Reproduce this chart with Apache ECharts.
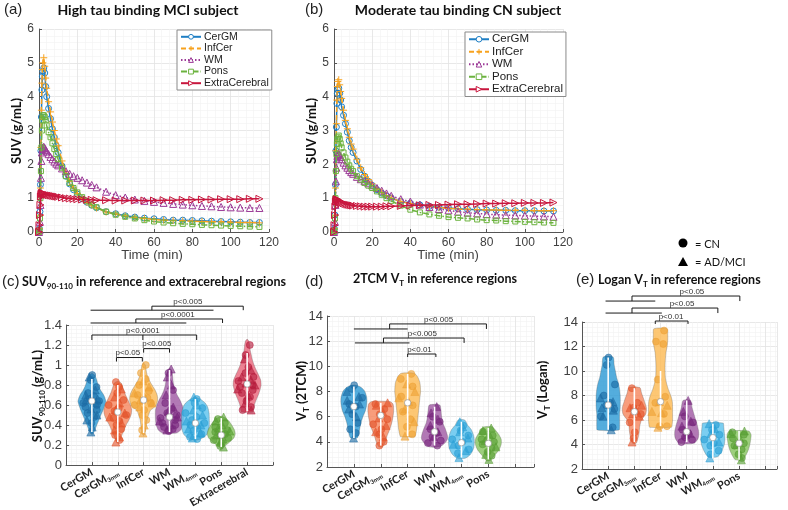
<!DOCTYPE html>
<html><head><meta charset="utf-8">
<script src="https://cdn.jsdelivr.net/npm/echarts@6/dist/echarts.min.js"></script>
<style>html,body{margin:0;padding:0;background:#fff}#c{width:788px;height:510px}</style>
</head><body><div id="c"></div><script>
// ---------- Panel (a)/(b) time-activity curves ----------
const timeMin = [0,0.25,0.5,0.75,1,1.25,1.5,1.75,2,2.5,3,3.5,4,5,6,7,8,9,10,12,14,16,18,20,22.5,25,27.5,30,35,40,45,50,55,60,65,70,75,80,85,90,95,100,105,110,115];
const aCerGM = [0,0.1,0.6,1.4,2.4,3.4,4.2,4.6,4.75, 4.85,4.7,4.3,4.0, 3.65,3.35,3.05,2.8,2.55,2.35, 1.95,1.65,1.42,1.25,1.12, 0.98,0.88,0.79,0.72, 0.6,0.54,0.48,0.44,0.41,0.39,0.37,0.35,0.35,0.34,0.33,0.32,0.31,0.3,0.29,0.28,0.28];
const aInfCer = [0,0.1,0.5,1.3,2.5,3.6,4.4,4.8,5.0, 5.15,4.9,4.55,4.25, 3.85,3.55,3.25,3.0,2.75,2.55, 2.1,1.78,1.5,1.3,1.14, 0.99,0.88,0.79,0.71, 0.59,0.53,0.47,0.43,0.4,0.37,0.35,0.34,0.33,0.32,0.31,0.3,0.3,0.29,0.28,0.28,0.27];
const aWM = [0,0.05,0.3,0.8,1.6,2.1,2.35,2.45,2.5, 2.52,2.48,2.42,2.38, 2.3,2.22,2.15,2.08,2.02,1.97, 1.88,1.8,1.72,1.65,1.6, 1.53,1.46,1.39,1.32, 1.19,1.09,1.02,0.96,0.92,0.89,0.86,0.83,0.81,0.79,0.77,0.76,0.74,0.73,0.72,0.71,0.71];
const aPons = [0,0.05,0.4,1.0,1.8,2.5,3.0,3.3,3.45, 3.45,3.4,3.3,3.15, 2.95,2.8,2.62,2.45,2.3,2.15, 1.9,1.65,1.45,1.3,1.17, 1.03,0.91,0.81,0.73, 0.6,0.51,0.45,0.4,0.35,0.31,0.28,0.26,0.24,0.23,0.21,0.2,0.19,0.18,0.17,0.16,0.15];
const aExtra = [0,0.2,0.5,0.8,1.05,1.12,1.15,1.15,1.14, 1.13,1.12,1.11,1.1, 1.09,1.08,1.07,1.06,1.05,1.04, 1.02,1.0,0.99,0.98,0.97, 0.96,0.95,0.95,0.94, 0.94,0.93,0.93,0.93,0.93,0.93,0.94,0.94,0.95,0.95,0.96,0.96,0.97,0.97,0.97,0.98,0.98];
const bCerGM = [0,0.1,0.5,1.4,2.4,3.1,3.8,4.1,4.2, 4.25,4.1,3.9,3.7, 3.45,3.2,2.95,2.7,2.5,2.35, 2.1,1.85,1.65,1.5,1.38, 1.25,1.15,1.07,1.0, 0.9,0.85,0.8,0.76,0.73,0.71,0.69,0.67,0.66,0.65,0.64,0.64,0.63,0.63,0.63,0.62,0.62];
const bInfCer = [0,0.1,0.5,1.3,2.4,3.2,3.9,4.3,4.45, 4.5,4.35,4.15,3.95, 3.6,3.3,3.05,2.8,2.6,2.45, 2.15,1.9,1.7,1.55,1.42, 1.28,1.17,1.08,1.0, 0.9,0.84,0.79,0.75,0.72,0.7,0.68,0.67,0.66,0.65,0.65,0.64,0.64,0.64,0.63,0.63,0.63];
const bWM = [0,0.05,0.3,0.8,1.5,1.9,2.15,2.25,2.3, 2.3,2.28,2.22,2.15, 2.05,1.97,1.9,1.83,1.77,1.72, 1.63,1.56,1.5,1.44,1.38, 1.3,1.22,1.14,1.07, 0.97,0.9,0.81,0.74,0.68,0.64,0.6,0.57,0.55,0.53,0.51,0.5,0.49,0.48,0.47,0.46,0.45];
const bPons = [0,0.05,0.4,1.0,1.8,2.3,2.6,2.75,2.8, 2.85,2.75,2.62,2.5, 2.35,2.2,2.08,1.97,1.87,1.8, 1.65,1.55,1.45,1.37,1.3, 1.2,1.1,1.0,0.92, 0.78,0.66,0.58,0.52,0.48,0.44,0.42,0.4,0.37,0.35,0.34,0.32,0.31,0.3,0.29,0.28,0.27];
const bExtra = [0,0.2,0.5,0.75,0.9,0.95,0.97,0.96,0.95, 0.93,0.91,0.89,0.87, 0.85,0.83,0.81,0.8,0.79,0.78, 0.77,0.76,0.75,0.75,0.75, 0.75,0.75,0.76,0.76, 0.77,0.78,0.79,0.8,0.8,0.81,0.82,0.82,0.83,0.84,0.84,0.85,0.85,0.86,0.86,0.86,0.87];
const curveNames = ['CerGM','InfCer','WM','Pons','ExtraCerebral'];

// ---------- Panel (c)/(d)/(e) categories ----------
const cCategories = ['CerGM','CerGM','InfCer','WM','WM','Pons','Extracerebral'];
const cSubscripts = ['','3mm','','','4mm','',''];
const deCategories = ['CerGM','CerGM','InfCer','WM','WM','Pons'];
const deSubscripts = ['','3mm','','','4mm',''];

// violin density profiles: [value, relative width]
const cProfiles = [
 [[0.92,0],[0.90,0.2],[0.85,0.35],[0.80,0.45],[0.75,0.62],[0.70,0.85],[0.64,1.0],[0.60,0.93],[0.55,0.8],[0.50,0.65],[0.45,0.5],[0.40,0.35],[0.35,0.22],[0.31,0.06]],
 [[0.84,0],[0.82,0.25],[0.78,0.35],[0.72,0.5],[0.66,0.7],[0.6,0.9],[0.55,1.0],[0.5,0.95],[0.45,0.8],[0.4,0.6],[0.35,0.45],[0.3,0.3],[0.25,0.15],[0.22,0]],
 [[1.02,0],[1.0,0.12],[0.95,0.18],[0.9,0.25],[0.85,0.4],[0.8,0.6],[0.75,0.82],[0.7,0.97],[0.65,1.0],[0.6,0.9],[0.57,0.7],[0.55,0.5],[0.5,0.35],[0.45,0.25],[0.4,0.2],[0.35,0.15],[0.3,0.05]],
 [[0.97,0],[0.95,0.15],[0.9,0.22],[0.85,0.25],[0.8,0.3],[0.75,0.4],[0.7,0.55],[0.65,0.75],[0.6,0.9],[0.55,1.0],[0.45,1.0],[0.4,0.95],[0.35,0.8],[0.32,0.5]],
 [[0.68,0],[0.66,0.35],[0.62,0.7],[0.58,0.88],[0.52,0.98],[0.45,1.0],[0.4,1.0],[0.35,0.95],[0.3,0.8],[0.27,0.5],[0.25,0.15]],
 [[0.49,0],[0.47,0.3],[0.44,0.55],[0.4,0.75],[0.35,0.95],[0.31,1.0],[0.27,0.9],[0.23,0.6],[0.2,0.35],[0.17,0.05]],
 [[1.26,0],[1.24,0.12],[1.2,0.18],[1.15,0.22],[1.1,0.3],[1.05,0.38],[1.0,0.5],[0.95,0.65],[0.9,0.82],[0.85,0.97],[0.8,1.0],[0.75,0.92],[0.7,0.8],[0.65,0.65],[0.6,0.52],[0.55,0.45],[0.53,0.4]]
];
const dProfiles = [
 [[8.5,0.2],[8.3,0.6],[8.0,0.85],[7.5,1.0],[7.0,1.0],[6.5,0.9],[6.0,0.7],[5.5,0.55],[5.0,0.45],[4.5,0.35],[4.3,0.25]],
 [[7.2,0.7],[7.0,0.95],[6.5,1.0],[6.0,0.95],[5.5,0.85],[5.0,0.7],[4.5,0.5],[4.0,0.35],[3.6,0.15]],
 [[9.45,0.5],[9.2,0.75],[8.7,0.95],[8.0,1.0],[7.5,0.95],[7.0,0.9],[6.5,0.85],[6.0,0.8],[5.5,0.75],[5.0,0.7],[4.5,0.6],[4.4,0.55]],
 [[6.93,0.4],[6.5,0.5],[6.0,0.55],[5.5,0.65],[5.0,0.85],[4.5,1.0],[4.2,1.0],[3.9,0.8],[3.6,0.4]],
 [[5.74,0.25],[5.3,0.5],[5.0,0.75],[4.5,0.95],[4.0,1.0],[3.5,0.95],[3.0,0.7],[2.7,0.3]],
 [[5.2,0.3],[5.0,0.5],[4.6,0.8],[4.2,1.0],[3.8,1.0],[3.4,0.85],[3.0,0.55],[2.7,0.3],[2.5,0.15]]
];
const eProfiles = [
 [[11.15,0.4],[10.5,0.5],[10.0,0.6],[9.5,0.7],[9.0,0.85],[8.5,0.95],[8.0,1.0],[7.0,1.0],[6.5,0.95],[6.0,0.95],[5.5,0.95],[5.18,0.9]],
 [[8.65,0.45],[8.2,0.6],[7.5,0.85],[7.0,1.0],[6.5,0.95],[6.0,0.6],[5.5,0.45],[5.0,0.4],[4.5,0.3],[4.1,0.15]],
 [[13.45,0.55],[13,0.6],[12.5,0.6],[12,0.55],[11.5,0.45],[10.5,0.38],[9.5,0.4],[9.0,0.5],[8.5,0.65],[8.0,0.85],[7.5,0.98],[7.0,1.0],[6.5,1.0],[6.0,1.0],[5.5,0.95],[5.4,0.9]],
 [[7.6,0.3],[7.0,0.45],[6.5,0.6],[6.0,0.75],[5.5,0.9],[5.0,1.0],[4.5,0.95],[4.1,0.6]],
 [[5.75,0.85],[5.5,0.9],[5.0,0.95],[4.5,1.0],[4.0,0.95],[3.5,0.75],[3.0,0.4]],
 [[5.1,0.8],[4.8,1.0],[4.3,0.95],[4.0,0.9],[3.5,0.75],[3.0,0.5],[2.75,0.3]]
];
// medians / whisker ranges
const cMedians = [0.64,0.53,0.65,0.48,0.42,0.30,0.81];
const cWhiskerLow = [0.33,0.23,0.32,0.33,0.26,0.18,0.54];
const cWhiskerHigh = [0.86,0.80,0.95,0.95,0.66,0.47,1.12];
const dMedians = [6.8,6.1,7.1,4.8,3.93,3.88];
const dWhiskerLow = [4.3,3.7,4.45,3.7,2.75,2.6];
const dWhiskerHigh = [8.4,7.1,9.4,6.8,5.6,5.1];
const eMedians = [7.22,6.68,7.5,5.05,4.56,4.1];
const eWhiskerLow = [5.2,4.2,5.5,4.2,2.9,2.75];
const eWhiskerHigh = [11.1,8.6,10.0,7.6,5.7,5.1];
// individual subjects: CN (circles) and AD/MCI (triangles)
const cCN = [
 [0.90,0.85,0.78,0.72,0.69,0.66,0.64,0.62,0.60,0.58,0.55,0.52,0.48,0.42],
 [0.83,0.78,0.72,0.65,0.60,0.57,0.54,0.50,0.47,0.44,0.40,0.36,0.30,0.25],
 [1.0,0.92,0.86,0.80,0.74,0.70,0.67,0.64,0.62,0.60,0.55,0.50,0.45,0.35],
 [0.92,0.75,0.62,0.56,0.52,0.50,0.47,0.45,0.42,0.40,0.38,0.36,0.34],
 [0.66,0.62,0.57,0.52,0.48,0.45,0.42,0.40,0.37,0.34,0.31,0.28,0.26],
 [0.46,0.42,0.38,0.35,0.33,0.31,0.29,0.27,0.25,0.22,0.19],
 [1.20,1.10,0.98,0.92,0.88,0.84,0.80,0.78,0.75,0.72,0.68,0.64,0.58,0.55]
];
const cAD = [
 [0.88,0.75,0.70,0.66,0.65,0.62,0.56,0.50,0.45,0.38,0.33],
 [0.76,0.68,0.62,0.55,0.52,0.48,0.42,0.35,0.28,0.23],
 [0.84,0.78,0.72,0.68,0.65,0.62,0.58,0.40,0.32],
 [0.96,0.88,0.80,0.70,0.58,0.54,0.48,0.44,0.40,0.35],
 [0.68,0.60,0.55,0.50,0.44,0.40,0.36,0.32,0.27],
 [0.48,0.44,0.40,0.37,0.34,0.30,0.26,0.23,0.18],
 [1.06,0.95,0.88,0.85,0.82,0.80,0.76,0.70,0.62,0.55]
];
const dCN = [
 [8.5,8.2,7.5,7.0,6.8,6.2,5.5,5.0,4.7],
 [7.0,6.6,6.2,5.8,5.4,5.0,4.6,4.0,3.7],
 [9.4,9.0,8.4,7.6,6.9,6.4,5.8,5.2,4.6],
 [6.0,5.6,5.0,4.7,4.4,4.1,3.9,3.7],
 [5.3,4.9,4.5,4.2,4.0,3.7,3.4,3.1],
 [4.8,4.5,4.2,4.0,3.8,3.5,3.2,2.9]
];
const dAD = [
 [8.0,7.6,7.3,7.0,6.6,6.0,4.3],
 [7.1,6.9,6.4,5.9,5.3,4.8,4.4],
 [8.6,8.0,7.5,7.2,6.6,5.6,4.45],
 [6.8,6.3,5.8,5.3,4.8,4.4],
 [5.6,5.2,4.8,4.3,3.8,3.3,2.75],
 [5.1,4.9,4.6,4.1,3.6,3.0,2.6]
];
const eCN = [
 [11.1,10.5,8.9,8.0,7.4,7.2,6.9,6.3,5.4],
 [8.6,7.4,7.0,6.5,5.8,5.0,4.5],
 [13.3,12.4,12.2,9.3,7.9,7.4,6.5,5.5,5.5],
 [6.3,5.8,5.2,4.9,4.6,4.4,4.2],
 [5.6,5.2,4.8,4.4,4.1,3.9,3.5,3.2],
 [5.0,4.8,4.5,4.1,3.9,3.6,3.2,2.9]
];
const eAD = [
 [7.8,7.5,7.0,6.8,6.3,5.2],
 [7.2,7.0,6.8,6.5,6.3,4.2],
 [7.5,7.2,6.7,6.6,5.4],
 [7.6,6.7,5.9,5.5,4.9,4.8],
 [5.7,5.3,4.9,4.2,2.9],
 [5.1,4.9,4.5,4.0,2.75]
];
// significance brackets: group lines [x1, x2, y]; brackets [x1, x2, yTop, yLeftEnd, yRightEnd, labelX, label, midTickX]
const cGroupLines = [[0.95,5.7,1.548],[0.95,4.65,1.42]];
const cBrackets = [
 [3.32,6.85,1.588,1.548,1.548,4.71,'p<0.005',null],
 [2.7,6.05,1.46,1.42,1.42,4.32,'p<0.0001',null],
 [1.0,5.05,1.30,1.25,1.25,2.97,'p<0.0001',2.97],
 [3.0,4.0,1.164,1.124,1.124,3.51,'p<0.005',null],
 [1.95,2.95,1.075,1.035,1.035,2.39,'p<0.05',null]
];
const dGroupLines = [[1.0,3.0,12.97],[1.04,3.07,11.86]];
const dBrackets = [
 [2.33,5.93,13.37,12.97,12.97,4.15,'p<0.005',null],
 [2.1,5.1,12.25,11.86,11.86,3.55,'p<0.005',null],
 [3.0,4.05,10.98,10.74,10.74,3.44,'p<0.01',null]
];
const eGroupLines = [[0.9,2.8,15.71],[0.9,3.05,14.73]];
const eBrackets = [
 [1.91,6.03,16.12,15.71,15.71,4.2,'p<0.05',null],
 [1.91,5.19,15.14,14.73,14.73,3.82,'p<0.05',null],
 [2.8,4.05,14.08,13.84,13.84,3.4,'p<0.01',null]
];

// ---------- styles ----------
const curveStyles = [
 {color:'#1f7fc4', symbol:'circle', size:6, dash:'solid'},
 {color:'#f7a21e', symbol:'path://M5,0L5,10M0,5L10,5', size:7, dash:[5,3]},
 {color:'#9c3a97', symbol:'triangle', size:7, dash:[1.5,2]},
 {color:'#6cb33f', symbol:'rect', size:5, dash:[6,2,1.5,2]},
 {color:'#c8163d', symbol:'path://M0,0L10,5L0,10Z', size:7, dash:'solid'}
];
const violinFill = ['#2e9bd6','#f7875f','#fdbb55','#a15ba5','#5ec3ee','#88c460','#e9687d'];
const pointColor = ['#1c6aa3','#e2532a','#eea235','#77267c','#2b9fd5','#579e34','#b51b3c'];
const FONT = '"Liberation Sans", Arial, sans-serif';
const TFONT = 'Lato, "Open Sans", sans-serif';

function curveSeries(grid, arrs) {
  return arrs.map((arr, i) => ({
    name: curveNames[i], type:'line', xAxisIndex:grid, yAxisIndex:grid,
    data: timeMin.map((t,k)=>[t, arr[k]]),
    symbol: curveStyles[i].symbol, symbolSize: curveStyles[i].size, showSymbol:true,
    lineStyle:{color:curveStyles[i].color, width:1.5, type:curveStyles[i].dash},
    itemStyle:{color:'rgba(255,255,255,0)', borderColor:curveStyles[i].color, borderWidth:1},
    emphasis:{disabled:true}, z: 2+i
  }));
}
function legendItems(){
  return curveNames.map((n,i)=>({name:n, itemStyle:{color:'#fff', borderColor:curveStyles[i].color, borderWidth:1}}));
}
function densityAt(prof, y){
  if (y >= prof[0][0]) return prof[0][1];
  for (let k=0;k<prof.length-1;k++){
    const [y0,d0]=prof[k],[y1,d1]=prof[k+1];
    if (y<=y0 && y>=y1) return d0+(d1-d0)*(y0-y)/(y0-y1);
  }
  return prof[prof.length-1][1];
}
function violinSeries(grid, profiles, maxHW){
  return {type:'custom', xAxisIndex:grid, yAxisIndex:grid, silent:true, z:3,
    data: profiles.map((p,i)=>[i+1, p[0][0]]),
    renderItem(params, api){
      const i = params.dataIndex, prof = profiles[i], x0 = i+1;
      const right = prof.map(([y,d]) => api.coord([x0 + d*maxHW, y]));
      const left = prof.slice().reverse().map(([y,d]) => api.coord([x0 - d*maxHW, y]));
      return {type:'polygon', shape:{points:right.concat(left), smooth:0.25},
        style:{fill:violinFill[i], opacity:0.82, stroke:'rgba(80,80,80,0.55)', lineWidth:0.6}};
    }};
}
const jitterPattern = [0.1,-0.55,0.65,-0.3,0.35,-0.8,0.8,-0.1,0.5,-0.45,0.7,-0.65,0.2,-0.9,0.55,-0.2];
function pointSeries(grid, vals, profiles, maxHW, symbol, size, shift){
  const data = [];
  vals.forEach((arr,i)=>arr.forEach((v,k)=>{
    const d = Math.max(densityAt(profiles[i], v), 0.3);
    const j = jitterPattern[(k*3+shift+i)%jitterPattern.length];
    data.push({value:[i+1 + j*d*maxHW*0.8, v], itemStyle:{color:pointColor[i], borderColor:pointColor[i]}});
  }));
  return {type:'scatter', xAxisIndex:grid, yAxisIndex:grid, symbol, symbolSize:size, silent:true, z:4,
    itemStyle:{opacity:0.62, borderWidth:0.8}, data};
}
function boxSeries(grid, med, lo, hi){
  return {type:'custom', xAxisIndex:grid, yAxisIndex:grid, silent:true, z:6,
    data: med.map((m,i)=>[i+1, m]),
    renderItem(params, api){
      const i = params.dataIndex, x0=i+1;
      const a=api.coord([x0, lo[i]]), b=api.coord([x0, hi[i]]), m=api.coord([x0, med[i]]);
      return {type:'group', children:[
        {type:'line', shape:{x1:a[0],y1:a[1],x2:b[0],y2:b[1]}, style:{stroke:'#fff', lineWidth:1.6}},
        {type:'circle', shape:{cx:m[0], cy:m[1], r:3.2}, style:{fill:'#fff', stroke:'#888', lineWidth:0.6}}
      ]};
    }};
}
function bracketSeries(grid, groups, brackets, ymin){
  return {type:'custom', xAxisIndex:grid, yAxisIndex:grid, silent:true, clip:false, z:7,
    data:[[1, ymin]],
    renderItem(params, api){
      const ch = [];
      const st = {stroke:'#1a1a1a', lineWidth:1, fill:'none'};
      groups.forEach(g=>{ const a=api.coord([g[0],g[2]]), b=api.coord([g[1],g[2]]);
        ch.push({type:'line', shape:{x1:a[0],y1:a[1],x2:b[0],y2:b[1]}, style:st}); });
      brackets.forEach(b=>{
        const [x1,x2,yt,yl,yr,lx,lab,mid]=b;
        ch.push({type:'polyline', shape:{points:[api.coord([x1,yl]),api.coord([x1,yt]),api.coord([x2,yt]),api.coord([x2,yr])]}, style:st});
        if (mid!=null){ const m1=api.coord([mid,yt]), m2=api.coord([mid,yl]);
          ch.push({type:'line', shape:{x1:m1[0],y1:m1[1],x2:m2[0],y2:m2[1]}, style:st}); }
        const lp = api.coord([lx, yt]);
        ch.push({type:'text', style:{text:lab, x:lp[0], y:lp[1]-0.5, align:'center', verticalAlign:'bottom', font:'8px '+FONT, fill:'#333'}});
      });
      return {type:'group', children:ch};
    }};
}
const gridLine = {show:true, lineStyle:{color:'#e2e2e2', width:0.8}};
const minorLine = {show:true, lineStyle:{color:'#f1f1f1', width:0.6}};
function valAxis(grid, min, max, interval, extra){
  return Object.assign({type:'value', gridIndex:grid, min, max, interval,
    axisLine:{show:true, onZero:false, lineStyle:{color:'#555', width:1}},
    axisTick:{show:true, inside:true, length:3, lineStyle:{color:'#555'}},
    axisLabel:{fontFamily:FONT, fontSize:12, color:'#404040', margin:5},
    splitLine:gridLine, minorTick:{show:false, splitNumber:5}, minorSplitLine:minorLine}, extra||{});
}
function catFormatter(cats, subs){
  return v => { const i=Math.round(v)-1; if (Math.abs(v-Math.round(v))>1e-6 || i<0 || i>=cats.length) return '';
    return '{b|'+cats[i]+'}'+(subs[i]?'{s|'+subs[i]+'}':''); };
}
const catRich = {b:{fontFamily:TFONT, fontWeight:'bold', fontSize:11, color:'#222', lineHeight:13},
                 s:{fontFamily:TFONT, fontWeight:'bold', fontSize:6, color:'#222', lineHeight:8, verticalAlign:'bottom'}};
function catAxis(grid, max, cats, subs){
  return valAxis(grid, 0, max, 1, {axisLabel:{formatter:catFormatter(cats,subs), rotate:30, margin:6, rich:catRich, fontSize:11}});
}
const lowerY = {axisLabel:{fontFamily:FONT, fontSize:13, color:'#404040', margin:4}};

const option = {
  animation:false, backgroundColor:'#fff',
  grid:[
    {left:39, top:29, width:230, height:203},
    {left:334, top:29, width:229, height:203},
    {left:66, top:325, width:207, height:142},
    {left:327, top:316, width:207, height:151},
    {left:582, top:322, width:195, height:147}
  ],
  xAxis:[
    valAxis(0,0,120,20), valAxis(1,0,120,20),
    catAxis(2,8,cCategories,cSubscripts), catAxis(3,7.7,deCategories,deSubscripts), catAxis(4,7.45,deCategories,deSubscripts)
  ],
  yAxis:[
    valAxis(0,0,6,1), valAxis(1,0,6,1),
    valAxis(2,0,1.4,0.2,lowerY), valAxis(3,2,14,2,lowerY), valAxis(4,2,14,2,lowerY)
  ],
  legend:[
    {left:177, top:30, orient:'vertical', selectedMode:false, data:legendItems(), itemWidth:20, itemHeight:6, itemGap:0,
     padding:[1,3,1,3], borderColor:'#8a8a8a', borderWidth:1, backgroundColor:'#fff', borderRadius:0,
     textStyle:{fontFamily:FONT, fontSize:10.5, color:'#222', lineHeight:11.6, padding:[0,0,0,-2]}},
    {left:465, top:32, orient:'vertical', selectedMode:false, data:legendItems(), itemWidth:20, itemHeight:7, itemGap:0,
     padding:[1,3,1,3], borderColor:'#8a8a8a', borderWidth:1, backgroundColor:'#fff', borderRadius:0,
     textStyle:{fontFamily:FONT, fontSize:11.5, color:'#222', lineHeight:12.5, padding:[0,0,0,-2]}}
  ],
  graphic:[
    {type:'text', style:{text:'(a)', x:4, y:10, verticalAlign:'middle', font:'15px '+FONT, fill:'#222'}},
    {type:'text', style:{text:'High tau binding MCI subject', x:148, y:10, align:'center', verticalAlign:'middle', font:'bold 14px '+TFONT, fill:'#111'}},
    {type:'text', style:{text:'(b)', x:305, y:10, verticalAlign:'middle', font:'15px '+FONT, fill:'#222'}},
    {type:'text', style:{text:'Moderate tau binding CN subject', x:458, y:10, align:'center', verticalAlign:'middle', font:'bold 14px '+TFONT, fill:'#111'}},
    {type:'text', rotation:Math.PI/2, x:17, y:131, style:{text:'SUV (g/mL)', x:0, y:0, align:'center', verticalAlign:'middle', font:'bold 13px '+TFONT, fill:'#111'}},
    {type:'text', rotation:Math.PI/2, x:312, y:131, style:{text:'SUV (g/mL)', x:0, y:0, align:'center', verticalAlign:'middle', font:'bold 13px '+TFONT, fill:'#111'}},
    {type:'text', style:{text:'Time (min)', x:152, y:255, align:'center', verticalAlign:'middle', font:'13px '+FONT, fill:'#404040'}},
    {type:'text', style:{text:'Time (min)', x:448, y:255, align:'center', verticalAlign:'middle', font:'13px '+FONT, fill:'#404040'}},
    {type:'circle', shape:{cx:683, cy:243, r:4.5}, style:{fill:'#000'}},
    {type:'text', style:{text:'= CN', x:695, y:244, verticalAlign:'middle', font:'11px '+TFONT, fill:'#111'}},
    {type:'polygon', shape:{points:[[678,266],[688,266],[683,257]]}, style:{fill:'#000'}},
    {type:'text', style:{text:'= AD/MCI', x:695, y:262, verticalAlign:'middle', font:'11px '+TFONT, fill:'#111'}},
    {type:'text', style:{text:'(c)', x:2, y:282, verticalAlign:'middle', font:'15px '+FONT, fill:'#222'}},
    {type:'text', style:{text:'{t|SUV}{s|90-110}{t| in reference and extracerebral regions}', x:22, y:282, verticalAlign:'middle',
      rich:{t:{font:'bold 12.5px '+TFONT, fill:'#111', lineHeight:16}, s:{font:'bold 8px '+TFONT, fill:'#111', lineHeight:10, verticalAlign:'bottom'}}}},
    {type:'text', style:{text:'(d)', x:305, y:282, verticalAlign:'middle', font:'15px '+FONT, fill:'#222'}},
    {type:'text', style:{text:'{t|2TCM V}{s|T}{t| in reference regions}', x:435, y:279, align:'center', verticalAlign:'middle',
      rich:{t:{font:'bold 12.5px '+TFONT, fill:'#111', lineHeight:16}, s:{font:'bold 8px '+TFONT, fill:'#111', lineHeight:10, verticalAlign:'bottom'}}}},
    {type:'text', style:{text:'(e)', x:576, y:280, verticalAlign:'middle', font:'15px '+FONT, fill:'#222'}},
    {type:'text', style:{text:'{t|Logan V}{s|T}{t| in reference regions}', x:598, y:280, verticalAlign:'middle',
      rich:{t:{font:'bold 12.5px '+TFONT, fill:'#111', lineHeight:16}, s:{font:'bold 8px '+TFONT, fill:'#111', lineHeight:10, verticalAlign:'bottom'}}}},
    {type:'text', rotation:Math.PI/2, x:38, y:396, style:{text:'{t|SUV}{s|90-110}{t| (g/mL)}', x:0, y:0, align:'center', verticalAlign:'middle',
      rich:{t:{font:'bold 13px '+TFONT, fill:'#111', lineHeight:16}, s:{font:'bold 8px '+TFONT, fill:'#111', lineHeight:10, verticalAlign:'bottom'}}}},
    {type:'text', rotation:Math.PI/2, x:302, y:391, style:{text:'{t|V}{s|T}{t| (2TCM)}', x:0, y:0, align:'center', verticalAlign:'middle',
      rich:{t:{font:'bold 13px '+TFONT, fill:'#111', lineHeight:16}, s:{font:'bold 8px '+TFONT, fill:'#111', lineHeight:10, verticalAlign:'bottom'}}}},
    {type:'text', rotation:Math.PI/2, x:543, y:390, style:{text:'{t|V}{s|T}{t| (Logan)}', x:0, y:0, align:'center', verticalAlign:'middle',
      rich:{t:{font:'bold 13px '+TFONT, fill:'#111', lineHeight:16}, s:{font:'bold 8px '+TFONT, fill:'#111', lineHeight:10, verticalAlign:'bottom'}}}}
  ],
  series:[
    ...curveSeries(0,[aCerGM,aInfCer,aWM,aPons,aExtra]),
    ...curveSeries(1,[bCerGM,bInfCer,bWM,bPons,bExtra]),
    violinSeries(2,cProfiles,0.54), pointSeries(2,cCN,cProfiles,0.54,'circle',7,0), pointSeries(2,cAD,cProfiles,0.54,'triangle',8,5),
    boxSeries(2,cMedians,cWhiskerLow,cWhiskerHigh), bracketSeries(2,cGroupLines,cBrackets,0),
    violinSeries(3,dProfiles,0.48), pointSeries(3,dCN,dProfiles,0.48,'circle',7,0), pointSeries(3,dAD,dProfiles,0.48,'triangle',8,5),
    boxSeries(3,dMedians,dWhiskerLow,dWhiskerHigh), bracketSeries(3,dGroupLines,dBrackets,2),
    violinSeries(4,eProfiles,0.46), pointSeries(4,eCN,eProfiles,0.46,'circle',7,0), pointSeries(4,eAD,eProfiles,0.46,'triangle',8,5),
    boxSeries(4,eMedians,eWhiskerLow,eWhiskerHigh), bracketSeries(4,eGroupLines,eBrackets,2)
  ]
};
const chart = echarts.init(document.getElementById('c'));
chart.setOption(option);
</script></body></html>
